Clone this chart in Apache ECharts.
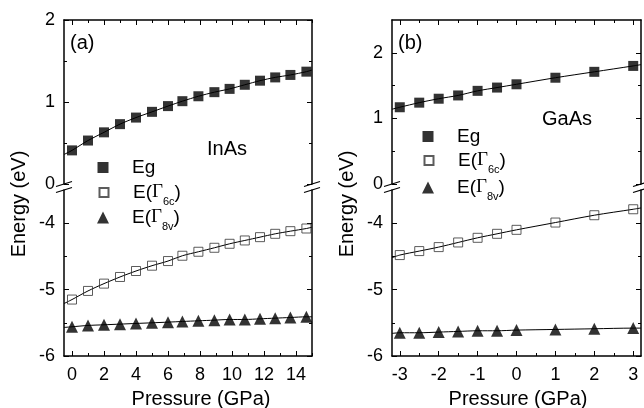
<!DOCTYPE html>
<html><head><meta charset="utf-8">
<script src="https://cdn.jsdelivr.net/npm/echarts@6/dist/echarts.min.js"></script>
<style>html,body{margin:0;padding:0;background:#fff}#c{width:644px;height:408px}</style>
</head><body><div id="c"></div>
<script>
// ---------- data ----------
const inasP   = [0,1,2,3,4,5,6,6.9,7.9,8.9,9.85,10.8,11.75,12.7,13.65,14.65];
const inasEg  = [0.41,0.53,0.63,0.73,0.81,0.88,0.95,1.01,1.07,1.12,1.16,1.21,1.26,1.30,1.33,1.37];
const inasG6c = [-5.15,-5.02,-4.91,-4.81,-4.72,-4.64,-4.57,-4.49,-4.43,-4.37,-4.31,-4.26,-4.21,-4.16,-4.12,-4.08];
const inasG8v = [-5.56,-5.54,-5.53,-5.52,-5.51,-5.50,-5.49,-5.48,-5.47,-5.46,-5.45,-5.45,-5.44,-5.43,-5.42,-5.41];
const gaasP   = [-3,-2.5,-2,-1.5,-1,-0.5,0,1,2,3];
const gaasEg  = [1.17,1.24,1.30,1.35,1.42,1.47,1.52,1.62,1.71,1.80];
const gaasG6c = [-4.48,-4.42,-4.36,-4.29,-4.22,-4.16,-4.10,-3.99,-3.88,-3.79];
const gaasG8v = [-5.65,-5.65,-5.64,-5.63,-5.62,-5.62,-5.61,-5.60,-5.59,-5.58];
// fitted-curve values at the left / right axis edges
const inasEgFitEnds  = [0.36, 1.39];
const inasG6cFitEnds = [-5.21, -4.06];
const inasG8vFitEnds = [-5.57, -5.41];
const gaasEgFitEnds  = [1.14, 1.82];
const gaasG6cFitEnds = [-4.52, -3.77];
const gaasG8vFitEnds = [-5.66, -5.58];
// axes
const inasXRange = [-0.5, 15];
const gaasXRange = [-3.2, 3.2];
const inasXTicks = [0,2,4,6,8,10,12,14];
const inasXMinor = [1,3,5,7,9,11,13,15];
const gaasXTicks = [-3,-2,-1,0,1,2,3];
const gaasXMinor = [-2.5,-1.5,-0.5,0.5,1.5,2.5];
const upperYTicks = [0,1,2];
const upperYMinor = [0.5,1.5];
const inasUpperMax = 2;
const gaasUpperMax = 2.5;
const lowerYRange = [-6, -3.5];
const lowerYTicks = [-6,-5,-4];
const lowerYMinor = [-5.5,-4.5];
const seriesNames = ['Eg','E(Γ6c)','E(Γ8v)'];

// ---------- layout ----------
const FONT = "'Liberation Sans', Arial, sans-serif";
const TOP = 20, UPBOT = 184, LOWTOP = 190, BOT = 356;
const panels = [
  {left:64, width:248, xr:inasXRange, xt:inasXTicks, xm:inasXMinor, upMax:inasUpperMax,
   P:inasP, Y:[inasEg,inasG6c,inasG8v], F:[inasEgFitEnds,inasG6cFitEnds,inasG8vFitEnds],
   label:'(a)', mat:'InAs', matX:207, matY:149, legX:103, legY:[168,193,218], titleX:201, eX:19},
  {left:392, width:249, xr:gaasXRange, xt:gaasXTicks, xm:gaasXMinor, upMax:gaasUpperMax,
   P:gaasP, Y:[gaasEg,gaasG6c,gaasG8v], F:[gaasEgFitEnds,gaasG6cFitEnds,gaasG8vFitEnds],
   label:'(b)', mat:'GaAs', matX:542, matY:119, legX:428, legY:[137,161,188], titleX:518, eX:347}
];

const grids = [], xAxes = [], yAxes = [], series = [], legends = [], graphics = [];
function axis(grid, position, min, max, ticks, len, line, labels, isX) {
  return {
    type:'value', gridIndex:grid, position, min, max,
    axisLine:{show:line, onZero:false, lineStyle:{color:'#000', width:1.5}},
    axisTick:{show:true, inside:true, length:len, customValues:ticks, lineStyle:{color:'#000', width:1}},
    axisLabel:{show:!!labels, customValues:labels || ticks, margin:isX?10:9, fontSize:18, color:'#000', fontFamily:FONT},
    splitLine:{show:false}, minorTick:{show:false}
  };
}
function addX(a){ xAxes.push(a); return xAxes.length-1; }
function addY(a){ yAxes.push(a); return yAxes.length-1; }

const markers = [
  {symbol:'rect', size:10, legend:11, style:{color:'#000'}},
  {symbol:'rect', size:9, legend:9, style:{color:'rgba(255,255,255,0)', borderColor:'#333', borderWidth:1}},
  {symbol:'triangle', size:12, legend:12, style:{color:'#000'}}
];

panels.forEach((p, pi) => {
  const gU = grids.length; grids.push({left:p.left, width:p.width, top:TOP, height:UPBOT-TOP});
  const gL = grids.length; grids.push({left:p.left, width:p.width, top:LOWTOP, height:BOT-LOWTOP});
  const xU = addX(axis(gU,'top',p.xr[0],p.xr[1],p.xt,5,true,null,true));
  addX(axis(gU,'top',p.xr[0],p.xr[1],p.xm,3,false,null,true));
  const yU = addY(axis(gU,'left',0,p.upMax,upperYTicks,5,true,upperYTicks,false));
  addY(axis(gU,'left',0,p.upMax,upperYMinor,3,false,null,false));
  addY(axis(gU,'right',0,p.upMax,upperYTicks,5,true,null,false));
  addY(axis(gU,'right',0,p.upMax,upperYMinor,3,false,null,false));
  const xL = addX(axis(gL,'bottom',p.xr[0],p.xr[1],p.xt,5,true,p.xt,true));
  addX(axis(gL,'bottom',p.xr[0],p.xr[1],p.xm,3,false,null,true));
  const yL = addY(axis(gL,'left',lowerYRange[0],lowerYRange[1],lowerYTicks,5,true,lowerYTicks,false));
  addY(axis(gL,'left',lowerYRange[0],lowerYRange[1],lowerYMinor,3,false,null,false));
  addY(axis(gL,'right',lowerYRange[0],lowerYRange[1],lowerYTicks,5,true,null,false));
  addY(axis(gL,'right',lowerYRange[0],lowerYRange[1],lowerYMinor,3,false,null,false));

  p.Y.forEach((vals, si) => {
    const xi = si === 0 ? xU : xL, yi = si === 0 ? yU : yL;
    const pts = p.P.map((x, k) => [x, vals[k]]);
    series.push({type:'line', name:'fit', xAxisIndex:xi, yAxisIndex:yi, smooth:0.3, showSymbol:false, silent:true,
      data:[[p.xr[0], p.F[si][0]], ...pts, [p.xr[1], p.F[si][1]]],
      lineStyle:{color:'#000', width:1}, z:1});
    series.push({type:'scatter', name:seriesNames[si], xAxisIndex:xi, yAxisIndex:yi,
      symbol:markers[si].symbol, symbolSize:markers[si].size, itemStyle:markers[si].style, data:pts, z:3});
    const isz = markers[si].legend;
    legends.push({
      data:[seriesNames[si]], orient:'vertical', padding:0, itemWidth:isz, itemHeight:isz,
      left:p.legX - isz/2, top:p.legY[si] - 10, selectedMode:false,
      formatter: n => n === 'Eg' ? '{p| }{n|Eg}' :
        '{p| }{n|E(}{g|Γ}{s|' + n.slice(3, 5) + '}{n|)}',
      textStyle:{color:'#000', fontFamily:FONT, rich:{
        p:{width:24 - isz/2},
        n:{fontSize:19, lineHeight:20, fontFamily:FONT, color:'#000'},
        g:{fontSize:19, lineHeight:20, fontFamily:"'Liberation Serif', serif", color:'#000'},
        s:{fontSize:11, lineHeight:11, verticalAlign:'bottom', fontFamily:FONT, color:'#000', padding:[0,0,-5,0]}
      }}
    });
  });

  // texts
  graphics.push({type:'text', x:p.left+6, y:43, style:{text:p.label, fontSize:20, fontFamily:FONT, fill:'#000', verticalAlign:'middle'}});
  graphics.push({type:'text', x:p.matX, y:p.matY, style:{text:p.mat, fontSize:20, fontFamily:FONT, fill:'#000', verticalAlign:'middle'}});
  graphics.push({type:'text', x:p.titleX, y:399, style:{text:'Pressure (GPa)', fontSize:20, fontFamily:FONT, fill:'#000', align:'center', verticalAlign:'middle'}});
  graphics.push({type:'text', x:p.eX, y:204, rotation:Math.PI/2, style:{text:'Energy (eV)', fontSize:20, fontFamily:FONT, fill:'#000', align:'center', verticalAlign:'middle'}});
  // axis-break marks
  [p.left, p.left + p.width].forEach(ax => {
    [UPBOT, LOWTOP].forEach(yy => {
      graphics.push({type:'line', shape:{x1:ax-8, y1:yy+2.5, x2:ax+8, y2:yy-2.5}, style:{stroke:'#000', lineWidth:1.3}, z:10});
    });
  });
});

const chart = echarts.init(document.getElementById('c'));
chart.setOption({
  animation:false, backgroundColor:'#fff',
  grid:grids, xAxis:xAxes, yAxis:yAxes, series, legend:legends, graphic:graphics
});
</script></body></html>
